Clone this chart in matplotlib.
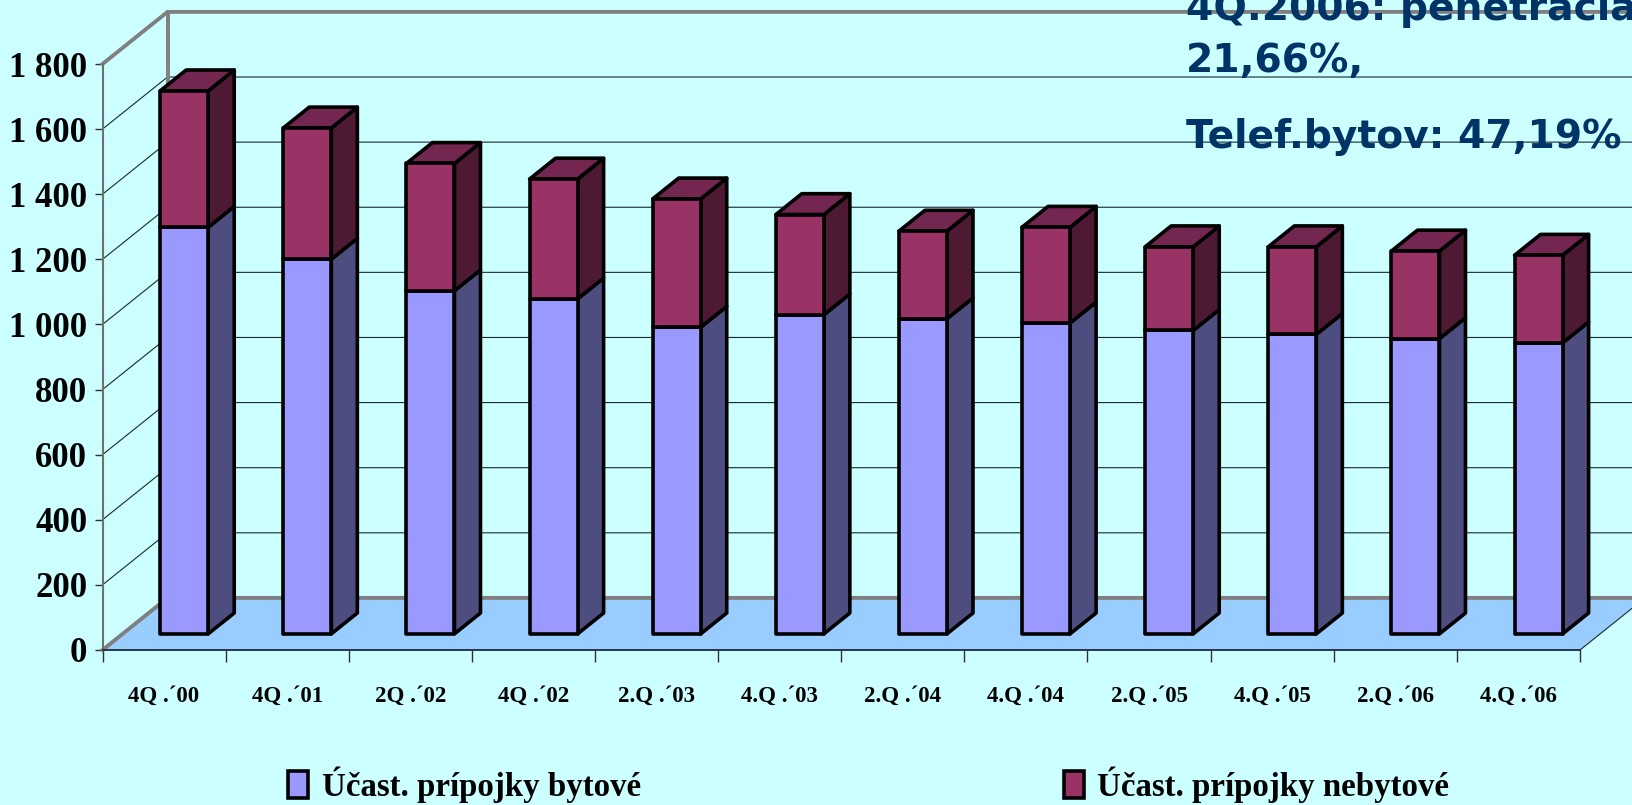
import numpy as np
import matplotlib
matplotlib.use('Agg')
import matplotlib.pyplot as plt
from matplotlib.patches import Polygon, Patch

categories = ['4Q .´00', '4Q .´01', '2Q .´02', '4Q .´02', '2.Q .´03', '4.Q .´03',
              '2.Q .´04', '4.Q .´04', '2.Q .´05', '4.Q .´05', '2.Q .´06', '4.Q .´06']
bytove = [1249, 1151, 1054, 1029, 942, 980, 968, 955, 932, 920, 907, 894]
nebytove = [419, 403, 391, 368, 394, 308, 269, 294, 257, 269, 269, 269]
y_ticks = [0, 200, 400, 600, 800, 1000, 1200, 1400, 1600, 1800]
y_labels = ['0', '200', '400', '600', '800', '1 000', '1 200', '1 400', '1 600', '1 800']
legend_labels = ['Účast. prípojky bytové', 'Účast. prípojky nebytové']

W, H = 1632, 805
BG = '#CCFFFF'
SERIF = 'Liberation Serif'

# sikma projekcia: hlbka 0..1 posunie bod doprava a hore
DX = 0.528
DV = 160.0
BAR_W = 0.39
D0, D1 = 0.31, 0.71


def proj(x, v, d):
    return (x + d * DX, v + d * DV)


fig = plt.figure(figsize=(W / 100, H / 100), dpi=100, facecolor=BG)
ax = fig.add_axes([102.5 / W, 1 - 650 / H, (1580 - 102.5) / W, (650 - 64) / H])
ax.set_facecolor('none')
ax.set_xlim(0, 12)
ax.set_ylim(0, 1800)

# podlaha
floor = [proj(0, 0, 0), proj(12, 0, 0), proj(12, 0, 1), proj(0, 0, 1)]
ax.add_patch(Polygon(floor, closed=True, fc='#99CCFF', ec='none', zorder=1, clip_on=False))

# mriezka na stene
for v in y_ticks[1:-1]:
    p0, p1, p2 = proj(0, v, 0), proj(0, v, 1), proj(12, v, 1)
    ax.plot([p0[0], p1[0], p2[0]], [p0[1], p1[1], p2[1]], color='#1a2a2a', lw=0.8,
            zorder=2, clip_on=False)

# sivy ram
gray = '#808080'
p0, p1, p2 = proj(0, 1800, 0), proj(0, 1800, 1), proj(12, 1800, 1)
ax.plot([p0[0], p1[0], p2[0]], [p0[1], p1[1], p2[1]], color=gray, lw=2.8, zorder=2,
        clip_on=False, solid_joinstyle='miter')
p3 = proj(0, 0, 1)
ax.plot([p1[0], p3[0]], [p1[1], p3[1]], color=gray, lw=2.8, zorder=2, clip_on=False)
p4, p5 = proj(0, 0, 0), proj(12, 0, 1)
ax.plot([p4[0], p3[0], p5[0]], [p4[1], p3[1], p5[1]], color=gray, lw=2.8, zorder=2,
        clip_on=False, solid_joinstyle='miter')
p6 = proj(12, 0, 0)
ax.plot([p6[0], p5[0]], [p6[1], p5[1]], color='#1a2a2a', lw=0.8, zorder=2, clip_on=False)


def box(x, v0, v1, front, side, top=None):
    xl, xr = x - BAR_W / 2, x + BAR_W / 2
    kw = dict(closed=True, ec='black', lw=2.6, joinstyle='round', zorder=3, clip_on=False)
    ax.add_patch(Polygon([proj(xr, v0, D0), proj(xr, v0, D1), proj(xr, v1, D1), proj(xr, v1, D0)],
                         fc=side, **kw))
    if top is not None:
        ax.add_patch(Polygon([proj(xl, v1, D0), proj(xr, v1, D0), proj(xr, v1, D1), proj(xl, v1, D1)],
                             fc=top, **kw))
    ax.add_patch(Polygon([proj(xl, v0, D0), proj(xr, v0, D0), proj(xr, v1, D0), proj(xl, v1, D0)],
                         fc=front, **kw))


for i in range(len(categories)):
    x = i + 0.5
    box(x, 0, bytove[i], '#9999FF', '#4D4D80')
    box(x, bytove[i], bytove[i] + nebytove[i], '#993366', '#4D1933', '#732650')

# osi
for s in ['top', 'right']:
    ax.spines[s].set_visible(False)
ax.spines['left'].set_color('#707070')
ax.spines['left'].set_linewidth(1.5)
ax.spines['bottom'].set_color('#1a2a3a')
ax.spines['bottom'].set_linewidth(1.3)
ax.set_yticks(y_ticks)
ax.set_yticklabels(y_labels, fontfamily=SERIF, fontweight='bold', fontsize=25, color='black')
ax.tick_params(axis='y', length=6, width=1, color='#303030', pad=5)
ax.set_xticks(np.arange(0, 13))
ax.set_xticklabels([])
ax.tick_params(axis='x', which='major', length=8.5, width=1, color='#303030')
ax.set_xticks(np.arange(len(categories)) + 0.5, minor=True)
ax.set_xticklabels(categories, minor=True, fontfamily=SERIF, fontweight='bold', fontsize=16.5)
ax.tick_params(axis='x', which='minor', length=0, pad=26)

# legenda
handles = [Patch(fc='#9999FF', ec='black', lw=2.6), Patch(fc='#993366', ec='black', lw=2.6)]
fig.legend(handles, legend_labels, ncol=2, frameon=False, loc='lower left',
           bbox_to_anchor=(288 / W, 1 - 803 / H), borderaxespad=0, borderpad=0,
           prop={'family': SERIF, 'weight': 'bold', 'size': 23.7},
           handlelength=0.62, handleheight=0.9, handletextpad=0.4, columnspacing=12.85)

# poznamka
note = {'family': 'DejaVu Sans', 'weight': 'bold', 'size': 28.3, 'color': '#003366', 'ha': 'left', 'va': 'baseline'}
fig.text(1186 / W, 1 - 20 / H, '4Q.2006: penetrácia', **note)
fig.text(1186 / W, 1 - 72 / H, '21,66%,', **note)
fig.text(1186 / W, 1 - 148 / H, 'Telef.bytov: 47,19%', **note)

fig.savefig('out.png', dpi=100, facecolor=BG)
